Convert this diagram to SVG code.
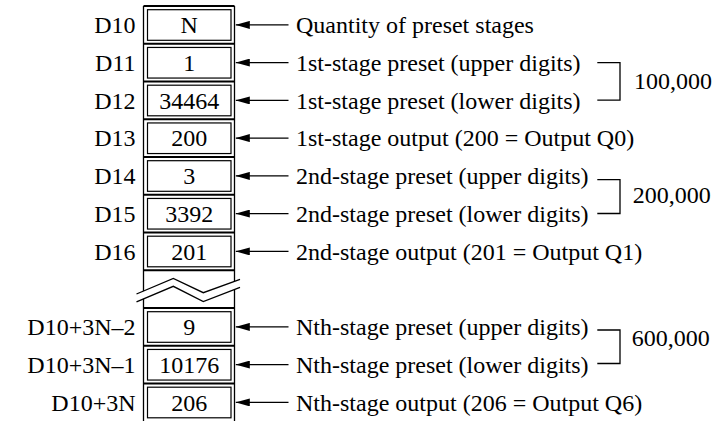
<svg xmlns="http://www.w3.org/2000/svg" width="715" height="421" viewBox="0 0 715 421">
<defs>
<style>
text{font-family:"Liberation Serif","Times New Roman",serif;font-size:24px;fill:#000}
.lbl{text-anchor:end}
.val{text-anchor:middle}
.ln{stroke:#000;stroke-width:1.3;fill:none}
.sep{stroke:#000;stroke-width:2;fill:none}
.cell{stroke:#000;stroke-width:1.2;fill:none}
.arr{stroke:#000;stroke-width:1.3;fill:none;marker-end:url(#ah)}
</style>
<marker id="ah" viewBox="0 0 14 8" refX="14" refY="4" markerWidth="14" markerHeight="8" markerUnits="userSpaceOnUse" orient="auto">
<path d="M0,0 L14,4 L0,8 Z" fill="#000"/>
</marker>
</defs>
<rect width="715" height="421" fill="#fff"/>
<g id="column">
<line class="ln" x1="143.5" y1="6" x2="143.5" y2="421"/>
<line class="ln" x1="234.5" y1="6" x2="234.5" y2="421"/>
<line class="sep" x1="143.5" y1="6" x2="234.5" y2="6"/>
<line class="sep" x1="143.5" y1="43.75" x2="234.5" y2="43.75"/>
<line class="sep" x1="143.5" y1="81.5" x2="234.5" y2="81.5"/>
<line class="sep" x1="143.5" y1="119.25" x2="234.5" y2="119.25"/>
<line class="sep" x1="143.5" y1="157" x2="234.5" y2="157"/>
<line class="sep" x1="143.5" y1="194.75" x2="234.5" y2="194.75"/>
<line class="sep" x1="143.5" y1="232.5" x2="234.5" y2="232.5"/>
<line class="sep" x1="143.5" y1="270.25" x2="234.5" y2="270.25"/>
<line class="sep" x1="143.5" y1="308" x2="234.5" y2="308"/>
<line class="sep" x1="143.5" y1="345.75" x2="234.5" y2="345.75"/>
<line class="sep" x1="143.5" y1="383.5" x2="234.5" y2="383.5"/>
</g>
<g id="break">
<polygon points="136.5,294 173.3,278.5 203.3,292.7 240,279.3 240,287.3 203.3,301.5 173.3,286.3 136.5,301.8" fill="#fff"/>
<polyline class="ln" points="136.5,294 173.3,278.5 203.3,292.7 240,279.3"/>
<polyline class="ln" points="136.5,301.8 173.3,286.3 203.3,301.5 240,287.3"/>
</g>
<g id="D10"><text class="lbl" x="135.5" y="33">D10</text><rect class="cell" x="147.5" y="9.7" width="83.5" height="30.6"/><text class="val" x="189.2" y="33">N</text></g>
<g id="D11"><text class="lbl" x="135.5" y="70.7">D11</text><rect class="cell" x="147.5" y="47.45" width="83.5" height="30.6"/><text class="val" x="189.2" y="70.7">1</text></g>
<g id="D12"><text class="lbl" x="135.5" y="108.5">D12</text><rect class="cell" x="147.5" y="85.2" width="83.5" height="30.6"/><text class="val" x="189.2" y="108.5">34464</text></g>
<g id="D13"><text class="lbl" x="135.5" y="146.2">D13</text><rect class="cell" x="147.5" y="122.95" width="83.5" height="30.6"/><text class="val" x="189.2" y="146.2">200</text></g>
<g id="D14"><text class="lbl" x="135.5" y="184">D14</text><rect class="cell" x="147.5" y="160.7" width="83.5" height="30.6"/><text class="val" x="189.2" y="184">3</text></g>
<g id="D15"><text class="lbl" x="135.5" y="221.7">D15</text><rect class="cell" x="147.5" y="198.45" width="83.5" height="30.6"/><text class="val" x="189.2" y="221.7">3392</text></g>
<g id="D16"><text class="lbl" x="135.5" y="259.5">D16</text><rect class="cell" x="147.5" y="236.2" width="83.5" height="30.6"/><text class="val" x="189.2" y="259.5">201</text></g>
<g id="DN2"><text class="lbl" x="135.5" y="335">D10+3N–2</text><rect class="cell" x="147.5" y="311.7" width="83.5" height="30.6"/><text class="val" x="189.2" y="335">9</text></g>
<g id="DN1"><text class="lbl" x="135.5" y="372.7">D10+3N–1</text><rect class="cell" x="147.5" y="349.45" width="83.5" height="30.6"/><text class="val" x="189.2" y="372.7">10176</text></g>
<g id="DN"><text class="lbl" x="135.5" y="410.5">D10+3N</text><rect class="cell" x="147.5" y="387.2" width="83.5" height="30.6"/><text class="val" x="189.2" y="410.5">206</text></g>
<g id="connectors">
<line class="arr" x1="288.5" y1="24.9" x2="235.8" y2="24.9"/>
<line class="arr" x1="288.5" y1="62.6" x2="235.8" y2="62.6"/>
<line class="arr" x1="288.5" y1="100.4" x2="235.8" y2="100.4"/>
<line class="arr" x1="288.5" y1="138.1" x2="235.8" y2="138.1"/>
<line class="arr" x1="288.5" y1="175.9" x2="235.8" y2="175.9"/>
<line class="arr" x1="288.5" y1="213.6" x2="235.8" y2="213.6"/>
<line class="arr" x1="288.5" y1="251.4" x2="235.8" y2="251.4"/>
<line class="arr" x1="288.5" y1="326.9" x2="235.8" y2="326.9"/>
<line class="arr" x1="288.5" y1="364.6" x2="235.8" y2="364.6"/>
<line class="arr" x1="288.5" y1="402.4" x2="235.8" y2="402.4"/>
</g>
<g id="descriptions">
<text x="296" y="33">Quantity of preset stages</text>
<text x="296" y="70.7">1st-stage preset (upper digits)</text>
<text x="296" y="108.5">1st-stage preset (lower digits)</text>
<text x="296" y="146.2">1st-stage output (200 = Output Q0)</text>
<text x="296" y="184">2nd-stage preset (upper digits)</text>
<text x="296" y="221.7">2nd-stage preset (lower digits)</text>
<text x="296" y="259.5">2nd-stage output (201 = Output Q1)</text>
<text x="296" y="335">Nth-stage preset (upper digits)</text>
<text x="296" y="372.7">Nth-stage preset (lower digits)</text>
<text x="296" y="410.5">Nth-stage output (206 = Output Q6)</text>
</g>
<g id="bracket1"><polyline class="ln" points="597.3,62.7 620,62.7 620,100.2 597.3,100.2"/><text x="634" y="89">100,000</text></g>
<g id="bracket2"><polyline class="ln" points="597.3,179.7 620,179.7 620,213.5 597.3,213.5"/><text x="632.7" y="203">200,000</text></g>
<g id="bracket3"><polyline class="ln" points="597.3,330 620,330 620,363.5 597.3,363.5"/><text x="631.7" y="346">600,000</text></g>
</svg>
